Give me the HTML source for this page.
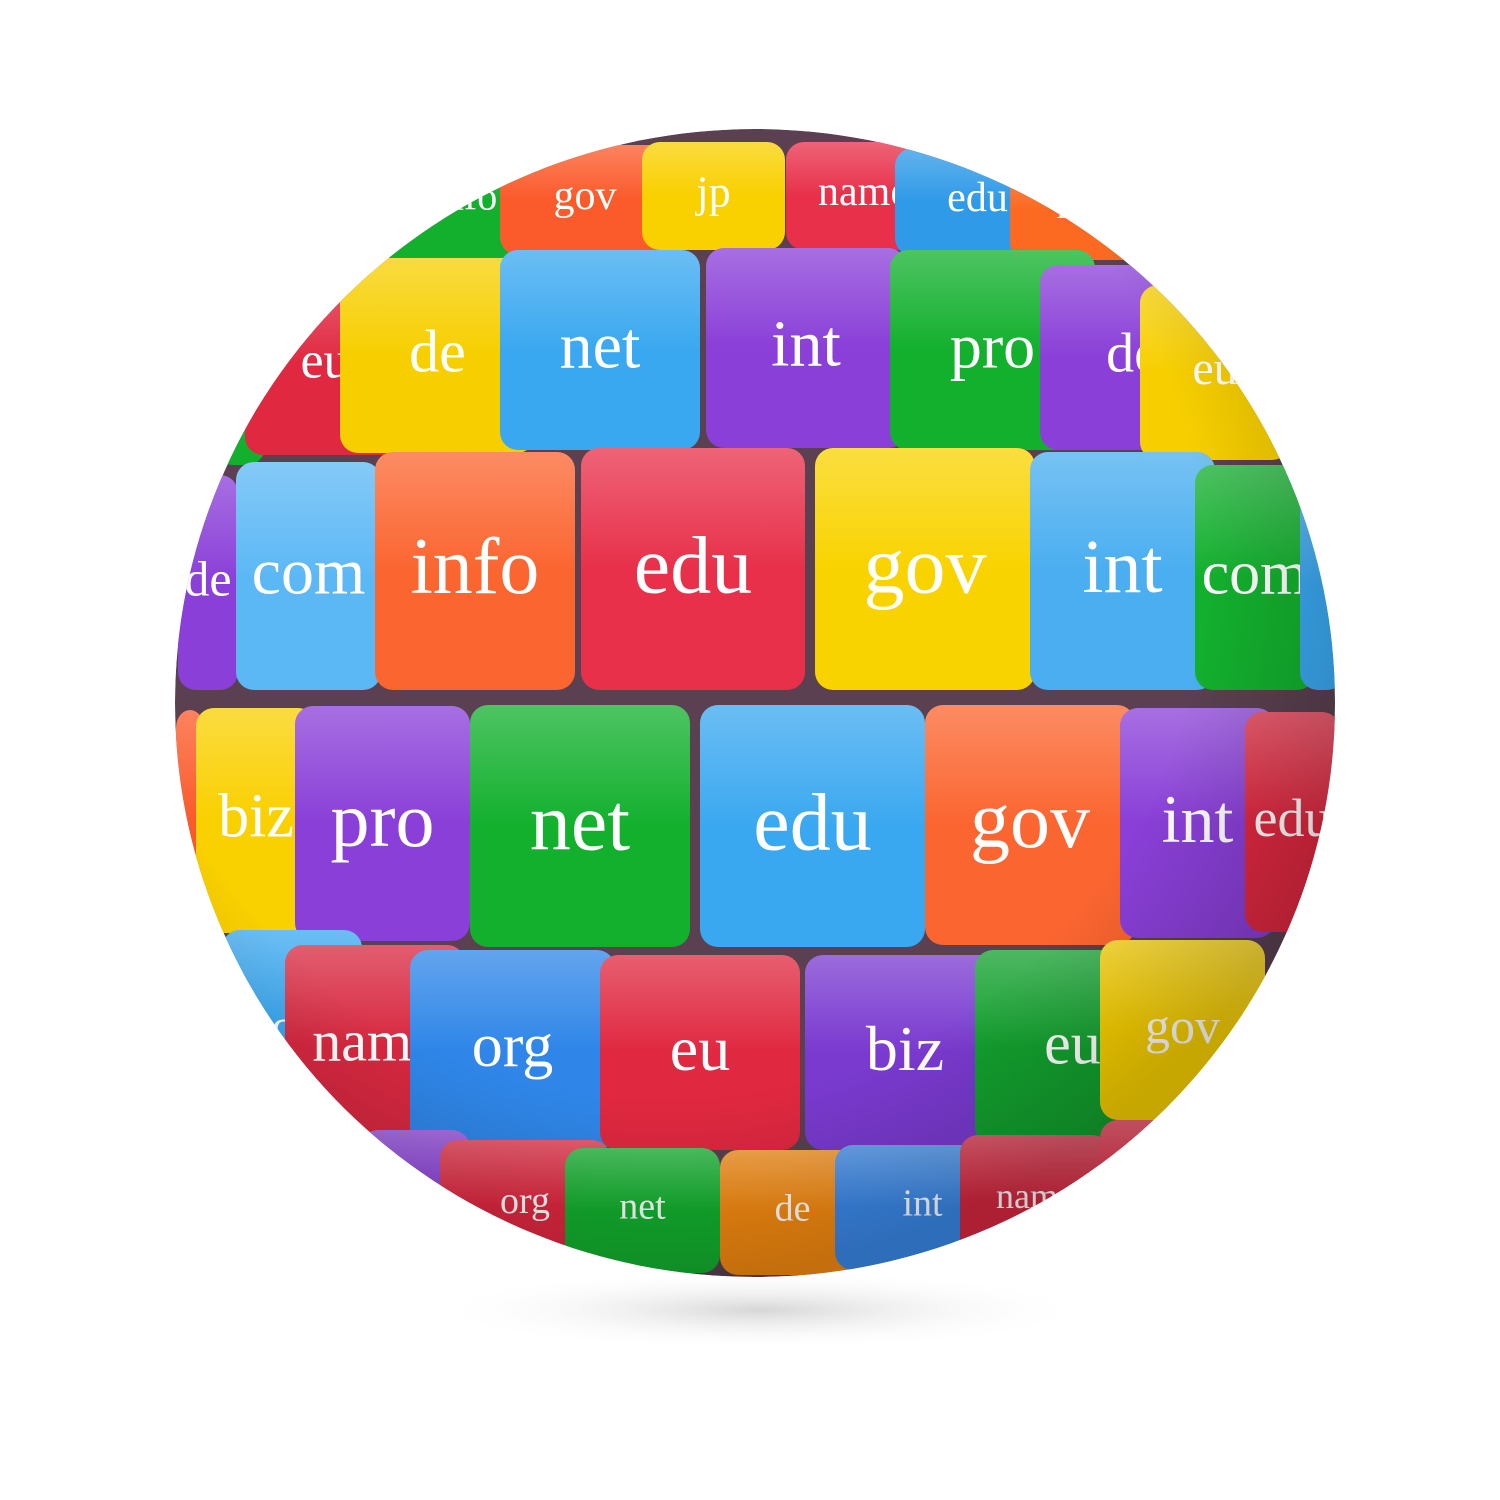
<!DOCTYPE html>
<html><head><meta charset="utf-8"><style>
html,body{margin:0;padding:0;background:#fff;width:1500px;height:1500px;overflow:hidden}
text{font-family:"Liberation Serif",serif;fill:#fff;text-anchor:middle;dominant-baseline:central}
</style></head><body>
<svg width="1500" height="1500" viewBox="0 0 1500 1500">
<defs>
<clipPath id="c"><ellipse cx="755" cy="703" rx="580" ry="574"/></clipPath>
<radialGradient id="sh" cx="0.5" cy="0.5" r="0.5"><stop offset="0" stop-color="#bbb" stop-opacity="0.6"/><stop offset="1" stop-color="#fff" stop-opacity="0"/></radialGradient>
<radialGradient id="shade" cx="0.42" cy="0.38" r="0.62"><stop offset="0.75" stop-color="#000" stop-opacity="0"/><stop offset="1" stop-color="#000" stop-opacity="0.2"/></radialGradient>
<linearGradient id="gl" x1="0" y1="0" x2="0" y2="1"><stop offset="0" stop-color="#fff" stop-opacity="0.25"/><stop offset="0.5" stop-color="#fff" stop-opacity="0"/></linearGradient>
</defs>
<ellipse cx="760" cy="1310" rx="330" ry="40" fill="url(#sh)"/>
<g clip-path="url(#c)">
<ellipse cx="755" cy="703" rx="580" ry="574" fill="#5a4050"/>
<g id="tiles"></g>
<ellipse cx="755" cy="703" rx="580" ry="574" fill="url(#shade)"/>
</g>
</svg>
<script>
const T=[
[380,140,170,120,'#13b02e','info',40],[500,145,170,110,'#fb5a2a','gov',42],[642,142,143,108,'#f9d000','jp',44],[786,142,155,108,'#e8304a','name',42],[895,148,165,108,'#2f9ae8','edu',42],[1010,160,150,100,'#fb6a20','info',36],
[215,285,50,180,'#13b02e','',50],[245,275,160,180,'#e02840','eu',52],[340,258,195,195,'#f7cf00','de',60],[500,250,200,200,'#3aa8f0','net',66],[706,248,200,200,'#8a3fd8','int',66],[890,250,205,200,'#13b02e','pro',64],[1040,265,185,185,'#8a3fd8','de',56],[1140,285,150,175,'#f7cf00','eu',48],
[178,475,60,215,'#8a3fd8','de',50],[236,462,145,228,'#5cb8f5','com',66],[375,452,200,238,'#fb6530','info',80],[581,448,224,242,'#e8304a','edu',82],[815,448,220,242,'#f9d300','gov',82],[1030,452,185,238,'#4aaef0','int',76],[1195,465,120,225,'#13b02e','com',62],[1300,480,45,210,'#3aa8f0','',50],
[176,710,28,220,'#fb5a2a','',50],[196,708,120,225,'#f9d000','biz',62],[295,706,175,235,'#8a3fd8','pro',78],[470,705,220,242,'#13b02e','net',82],[700,705,225,242,'#3aa8f0','edu',82],[925,705,210,240,'#fb6530','gov',80],[1120,708,155,230,'#8a3fd8','int',68],[1245,712,95,220,'#e02840','edu',54],
[222,930,140,200,'#3aa8f0','com',50],[285,945,180,200,'#d82840','name',58],[410,950,205,200,'#2f86e8','org',62],[600,955,200,195,'#e02840','eu',64],[805,955,200,195,'#7a3ad0','biz',64],[975,950,195,195,'#13a02e','eu',60],[1100,940,165,180,'#f7cf00','gov',50],
[360,1130,110,140,'#8a3fd8','',36],[440,1140,170,130,'#e02840','org',38],[565,1148,155,125,'#13b02e','net',38],[720,1150,145,125,'#f58a10','de',38],[835,1145,175,125,'#3a88e8','int',38],[960,1135,150,130,'#d82840','name',36],[1100,1120,130,130,'#e8304a','',30]
];
const g=document.getElementById('tiles');
const ns='http://www.w3.org/2000/svg';
T.forEach(t=>{
 const [x,y,w,h,c,l,fs]=t;
 const grp=document.createElementNS(ns,'g');
 
 
 const r=document.createElementNS(ns,'rect');
 r.setAttribute('x',x);r.setAttribute('y',y);r.setAttribute('width',w);r.setAttribute('height',h);
 r.setAttribute('rx',18);r.setAttribute('fill',c);
 grp.appendChild(r);
 const r2=document.createElementNS(ns,'rect');
 r2.setAttribute('x',x);r2.setAttribute('y',y);r2.setAttribute('width',w);r2.setAttribute('height',h);
 r2.setAttribute('rx',18);r2.setAttribute('fill','url(#gl)');
 grp.appendChild(r2);
 if(l){
  const tx=document.createElementNS(ns,'text');
  tx.setAttribute('x',x+w/2);tx.setAttribute('y',y+h/2-4);tx.setAttribute('font-size',fs);
  tx.textContent=l;
  grp.appendChild(tx);
 }
 g.appendChild(grp);
});
</script>
</body></html>
